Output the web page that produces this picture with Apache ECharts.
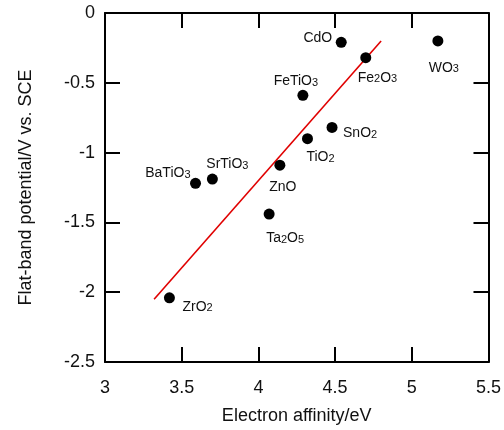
<!DOCTYPE html>
<html>
<head>
<meta charset="utf-8">
<script src="https://cdn.jsdelivr.net/npm/echarts@6/dist/echarts.min.js"></script>
<style>
  html, body { margin: 0; padding: 0; background: #fff; }
  #chart { width: 504px; height: 430px; }
</style>
</head>
<body>
<div id="chart"></div>
<script>
// Semiconductor oxides: electron affinity vs. flat-band potential
const materials = ['CdO', 'Fe2O3', 'WO3', 'FeTiO3', 'SnO2', 'TiO2', 'ZnO', 'BaTiO3', 'SrTiO3', 'Ta2O5', 'ZrO2'];
const electronAffinity = [4.54, 4.70, 5.17, 4.29, 4.48, 4.32, 4.14, 3.59, 3.70, 4.07, 3.42];
const flatBandPotential = [-0.21, -0.32, -0.20, -0.59, -0.82, -0.90, -1.09, -1.22, -1.19, -1.44, -2.04];

// Linear trend line end points
const fitX = [3.32, 4.80];
const fitY = [-2.05, -0.20];

const xTicks = { min: 3, max: 5.5, interval: 0.5 };
const yTicks = { min: -2.5, max: 0, interval: 0.5 };

// Where each material's label sits relative to its marker
const labelPlacement = {
  'CdO':    { align: 'right',  dx: -9, dy: -5 },
  'Fe2O3':  { align: 'left',   dx: -8, dy: 19 },
  'WO3':    { align: 'center', dx: 6,  dy: 26 },
  'FeTiO3': { align: 'center', dx: -7, dy: -15 },
  'SnO2':   { align: 'left',   dx: 11, dy: 5 },
  'TiO2':   { align: 'left',   dx: -1, dy: 18 },
  'ZnO':    { align: 'center', dx: 3,  dy: 21 },
  'BaTiO3': { align: 'right',  dx: -5, dy: -11 },
  'SrTiO3': { align: 'center', dx: 15, dy: -16 },
  'Ta2O5':  { align: 'center', dx: 16, dy: 23 },
  'ZrO2':   { align: 'left',   dx: 13, dy: 8 }
};

const FONT = 'Liberation Sans, Arial, sans-serif';
const INK = '#111';

// Chemical formula as rich text, digits set as subscripts
function formula(name) {
  return '{n|' + name.replace(/(\d)/g, '}{s|$1}{n|') + '}';
}

const points = materials.map(function (name, i) {
  const p = labelPlacement[name];
  return {
    name: name,
    value: [electronAffinity[i], flatBandPotential[i]],
    label: {
      show: true,
      position: 'inside',
      align: p.align,
      verticalAlign: 'middle',
      offset: [p.dx, p.dy],
      formatter: formula(name),
      rich: {
        n: { fontFamily: FONT, fontSize: 14, color: INK, verticalAlign: 'bottom', lineHeight: 16 },
        s: { fontFamily: FONT, fontSize: 11, color: INK, verticalAlign: 'bottom', lineHeight: 16 }
      }
    }
  };
});

const axisLine = { show: true, onZero: false, lineStyle: { color: '#000', width: 2 } };
const axisTick = { show: true, inside: true, length: 15, lineStyle: { color: '#000', width: 2 } };

const chart = echarts.init(document.getElementById('chart'), null, { renderer: 'canvas' });
chart.setOption({
  backgroundColor: '#fff',
  animation: false,
  grid: { left: 105, right: 15, top: 13, bottom: 66 },
  xAxis: [
    {
      type: 'value', position: 'bottom',
      min: xTicks.min, max: xTicks.max, interval: xTicks.interval,
      name: 'Electron affinity/eV', nameLocation: 'middle', nameGap: 45,
      nameTextStyle: { fontFamily: FONT, fontSize: 18, color: INK },
      axisLine: axisLine, axisTick: axisTick,
      axisLabel: { fontFamily: FONT, fontSize: 18, color: INK, margin: 17 },
      splitLine: { show: false }
    },
    {
      type: 'value', position: 'top',
      min: xTicks.min, max: xTicks.max, interval: xTicks.interval,
      axisLine: axisLine, axisTick: axisTick,
      axisLabel: { show: false }, splitLine: { show: false }
    }
  ],
  yAxis: [
    {
      type: 'value', position: 'left',
      min: yTicks.min, max: yTicks.max, interval: yTicks.interval,
      name: 'Flat-band potential/V vs. SCE', nameLocation: 'middle', nameGap: 70,
      nameTextStyle: { fontFamily: FONT, fontSize: 18, color: INK },
      axisLine: axisLine, axisTick: axisTick,
      axisLabel: { fontFamily: FONT, fontSize: 18, color: INK, margin: 10 },
      splitLine: { show: false }
    },
    {
      type: 'value', position: 'right',
      min: yTicks.min, max: yTicks.max, interval: yTicks.interval,
      axisLine: axisLine, axisTick: axisTick,
      axisLabel: { show: false }, splitLine: { show: false }
    }
  ],
  series: [
    {
      type: 'line',
      data: fitX.map(function (x, i) { return [x, fitY[i]]; }),
      symbol: 'none',
      lineStyle: { color: '#e00000', width: 1.6 },
      z: 2
    },
    {
      type: 'scatter',
      data: points,
      symbol: 'circle',
      symbolSize: 11,
      itemStyle: { color: '#000', opacity: 1 },
      z: 3
    }
  ]
});
</script>
</body>
</html>
